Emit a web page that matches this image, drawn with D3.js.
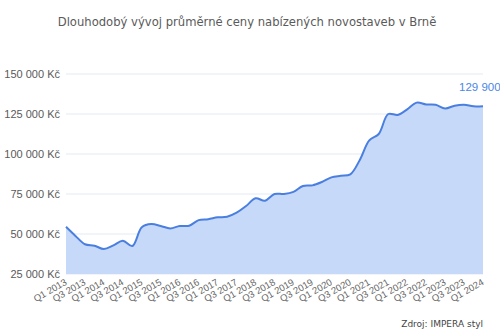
<!DOCTYPE html>
<html>
<head>
<meta charset="utf-8">
<script src="https://cdn.jsdelivr.net/npm/d3@7"></script>
<style>
  body { margin: 0; background: #fff; }
  svg { display: block; }
</style>
</head>
<body>
<div id="chart"></div>
<script>
const quarters = [
    "Q1 2013", "Q2 2013", "Q3 2013", "Q4 2013",
    "Q1 2014", "Q2 2014", "Q3 2014", "Q4 2014",
    "Q1 2015", "Q2 2015", "Q3 2015", "Q4 2015",
    "Q1 2016", "Q2 2016", "Q3 2016", "Q4 2016",
    "Q1 2017", "Q2 2017", "Q3 2017", "Q4 2017",
    "Q1 2018", "Q2 2018", "Q3 2018", "Q4 2018",
    "Q1 2019", "Q2 2019", "Q3 2019", "Q4 2019",
    "Q1 2020", "Q2 2020", "Q3 2020", "Q4 2020",
    "Q1 2021", "Q2 2021", "Q3 2021", "Q4 2021",
    "Q1 2022", "Q2 2022", "Q3 2022", "Q4 2022",
    "Q1 2023", "Q2 2023", "Q3 2023", "Q4 2023",
    "Q1 2024"
];

// prumerna cena (Kc), odhad z grafu
const prices = [
    54500, 48800, 43600, 42700,
    40600, 42900, 45800, 42500,
    54200, 56200, 55000, 53500,
    55000, 55200, 58700, 59200,
    60400, 60800, 63300, 67500,
    72300, 70800, 75000, 75000,
    76300, 80000, 80400, 82500,
    85400, 86400, 87300, 96300,
    108500, 112500, 125000, 124400,
    127900, 132100, 131000, 130800,
    128500, 130200, 130800, 129800,
    129900
];

const yTicks = [25000, 50000, 75000, 100000, 125000, 150000];
const xTickLabels = quarters.filter((q, i) => i % 2 === 0);

const width = 500, height = 334;
const margin = {top: 74, right: 17, bottom: 60, left: 66};
const plotW = width - margin.left - margin.right,
    plotH = height - margin.top - margin.bottom;

const fmt = v => d3.format(",")(v).replace(/,/g, " ") + " Kč";

const svg = d3.select("#chart")
    .append("svg")
    .attr("width", width)
    .attr("height", height);

svg.append("text")
    .attr("x", 247)
    .attr("y", 26)
    .attr("text-anchor", "middle")
    .style("font-family", "'DejaVu Sans', Verdana, sans-serif")
    .style("font-size", "11.6px")
    .style("fill", "#5a5a5a")
    .text("Dlouhodobý vývoj průměrné ceny nabízených novostaveb v Brně");

const g = svg.append("g")
    .attr("transform", `translate(${margin.left},${margin.top})`);

const x = d3.scalePoint().domain(quarters).range([0, plotW]);
const y = d3.scaleLinear().domain([25000, 150000]).range([plotH, 0]);

// grid
g.append("g")
    .selectAll("line")
    .data(yTicks)
    .join("line")
    .attr("x1", 0)
    .attr("x2", plotW)
    .attr("y1", d => y(d))
    .attr("y2", d => y(d))
    .style("stroke", "#e3e9f1")
    .style("stroke-width", 1);

// area + line
const curve = d3.curveCatmullRom.alpha(0.5);
g.append("path")
    .datum(prices)
    .attr("d", d3.area()
        .x((d, i) => x(quarters[i]))
        .y0(plotH)
        .y1(d => y(d))
        .curve(curve))
    .style("fill", "#c6d9f8");

g.append("path")
    .datum(prices)
    .attr("d", d3.line()
        .x((d, i) => x(quarters[i]))
        .y(d => y(d))
        .curve(curve))
    .style("fill", "none")
    .style("stroke", "#4a7fe0")
    .style("stroke-width", 2);

// y axis
const yAxis = g.append("g")
    .call(d3.axisLeft(y).tickValues(yTicks).tickFormat(fmt).tickSize(0).tickPadding(6));
yAxis.select(".domain").remove();
yAxis.selectAll("text")
    .style("font-family", "'Liberation Sans', Arial, sans-serif")
    .style("font-size", "11px")
    .style("fill", "#5a5a5a");

// x axis
const xAxis = g.append("g")
    .attr("transform", `translate(0,${plotH})`)
    .call(d3.axisBottom(x).tickValues(xTickLabels).tickSize(0).tickPadding(0));
xAxis.select(".domain").remove();
xAxis.selectAll("text")
    .attr("text-anchor", "end")
    .attr("dy", 0)
    .attr("transform", "translate(1,10) rotate(-30)")
    .style("font-family", "'Liberation Sans', Arial, sans-serif")
    .style("font-size", "9.5px")
    .style("fill", "#666");

// posledni hodnota
const last = prices.length - 1;
g.append("text")
    .attr("x", x(quarters[last]) - 24)
    .attr("y", y(prices[last]) - 15)
    .style("font-family", "'Liberation Sans', Arial, sans-serif")
    .style("font-size", "11.5px")
    .style("fill", "#4a86e8")
    .text(fmt(prices[last]));

svg.append("text")
    .attr("x", 483)
    .attr("y", 327)
    .attr("text-anchor", "end")
    .style("font-family", "'DejaVu Sans', Verdana, sans-serif")
    .style("font-size", "9px")
    .style("fill", "#444")
    .text("Zdroj: IMPERA styl");
</script>
</body>
</html>
